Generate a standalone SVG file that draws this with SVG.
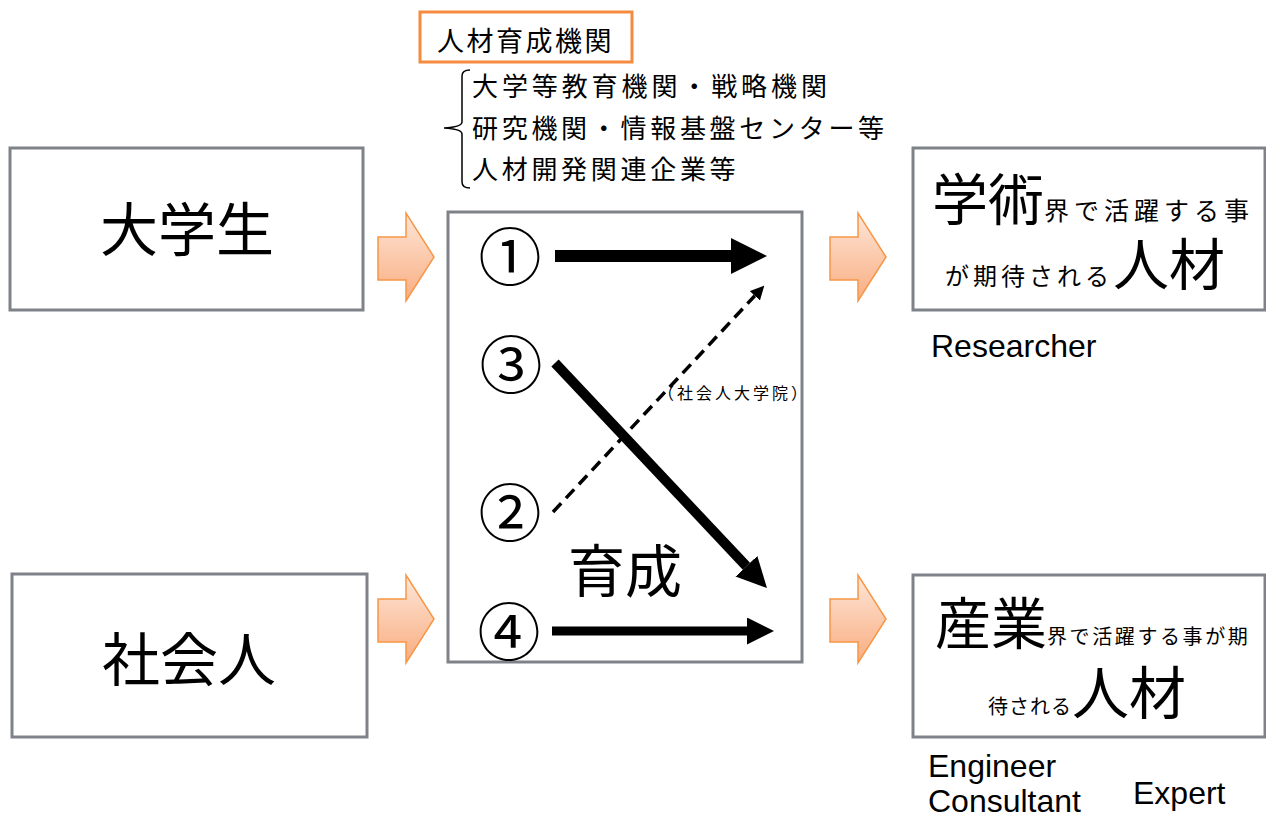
<svg xmlns="http://www.w3.org/2000/svg" width="1266" height="818" viewBox="0 0 1266 818">
<style>
.box{fill:#fff;stroke:#7f8389;stroke-width:3}
.jp{font-family:"Noto Sans CJK JP","Noto Sans CJK SC",sans-serif;fill:#000}
.en{font-family:"Liberation Sans",Arial,sans-serif;fill:#000;font-size:32px}
.blk{fill:url(#og);stroke:#f79646;stroke-width:1.5}
.conn{stroke:#000;fill:none}
.num{font-family:"Noto Sans CJK JP",sans-serif;font-size:63px;text-anchor:middle}
</style>
<defs>
<linearGradient id="og" x1="0" y1="0" x2="0" y2="1">
<stop offset="0" stop-color="#fde6d8"/>
<stop offset="1" stop-color="#f9ad80"/>
</linearGradient>
<marker id="head" viewBox="0 0 3 3" markerWidth="3" markerHeight="3" refX="0" refY="1.5" orient="auto" markerUnits="strokeWidth">
<path d="M0,0 L3,1.5 L0,3 z" fill="#000"/>
</marker>
<marker id="headS" viewBox="0 0 4 4" markerWidth="4" markerHeight="4" refX="0" refY="2" orient="auto" markerUnits="strokeWidth">
<path d="M0,0 L4,2 L0,4 z" fill="#000"/>
</marker>
<path id="blockArrow" d="M0,24 L28,24 L28,0 L56,44 L28,88 L28,67 L0,67 z"/>
</defs>
<rect width="1266" height="818" fill="#fff"/>

<g id="org-label">
<rect x="420" y="12" width="212" height="50" fill="#fff" stroke="#f58b3f" stroke-width="3"/>
<text class="jp" x="437" y="51" font-size="27" letter-spacing="2.5">人材育成機関</text>
</g>

<g id="org-list">
<path d="M470,70 Q462,70 462,76 L462,122 Q462,127 444,128 Q462,129 462,134 L462,182 Q462,188 470,188" fill="none" stroke="#000" stroke-width="1.5"/>
<text class="jp" x="472" y="96" font-size="26" letter-spacing="3.9">大学等教育機関・戦略機関</text>
<text class="jp" x="472" y="138" font-size="26" letter-spacing="3.7">研究機関・情報基盤センター等</text>
<text class="jp" x="472" y="179" font-size="26" letter-spacing="3.7">人材開発関連企業等</text>
</g>

<g id="student">
<rect class="box" x="10" y="148" width="353" height="162"/>
<text class="jp" x="187" y="251" font-size="58" text-anchor="middle">大学生</text>
</g>

<g id="worker">
<rect class="box" x="12" y="574" width="355" height="163"/>
<text class="jp" x="189" y="681" font-size="58" text-anchor="middle">社会人</text>
</g>

<g id="training">
<rect class="box" x="448" y="212" width="354" height="450"/>
<text class="jp num" x="510" y="280">①</text>
<text class="jp num" x="511" y="388">③</text>
<text class="jp num" x="510" y="536">②</text>
<text class="jp num" x="509" y="655">④</text>
<text class="jp" x="568" y="592" font-size="57">育成</text>
</g>

<g id="academic">
<rect class="box" x="913" y="148" width="352" height="162"/>
<text class="jp" y="220"><tspan x="932" font-size="56">学術</tspan><tspan font-size="25" letter-spacing="5">界で活躍する事</tspan></text>
<text class="jp" y="285"><tspan x="945" font-size="24" letter-spacing="4">が期待される</tspan><tspan font-size="56">人材</tspan></text>
<text class="en" x="931" y="357">Researcher</text>
</g>

<g id="industry">
<rect class="box" x="913" y="575" width="352" height="162"/>
<text class="jp" y="644"><tspan x="935" font-size="56">産業</tspan><tspan font-size="20" letter-spacing="2.6">界で活躍する事が期</tspan></text>
<text class="jp" y="714"><tspan x="988" font-size="20" letter-spacing="1">待される</tspan><tspan font-size="57">人材</tspan></text>
<text class="en" x="928" y="777">Engineer</text>
<text class="en" x="928" y="812">Consultant</text>
<text class="en" x="1133" y="804">Expert</text>
</g>

<g id="connectors">
<use href="#blockArrow" class="blk" x="378" y="213"/>
<use href="#blockArrow" class="blk" x="378" y="575"/>
<use href="#blockArrow" class="blk" x="830" y="213"/>
<use href="#blockArrow" class="blk" x="830" y="575"/>
<line class="conn" x1="555" y1="256" x2="731" y2="256" stroke-width="12" marker-end="url(#head)"/>
<line class="conn" x1="553" y1="512" x2="754.8" y2="295.8" stroke-width="3.5" stroke-dasharray="12 7" marker-end="url(#headS)"/>
<line class="conn" x1="555" y1="363" x2="746.4" y2="566.2" stroke-width="10" marker-end="url(#head)"/>
<line class="conn" x1="552" y1="631" x2="747" y2="631" stroke-width="9" marker-end="url(#head)"/>
<text class="jp" x="658" y="399" font-size="16" letter-spacing="3">（社会人大学院）</text>
</g>
</svg>
